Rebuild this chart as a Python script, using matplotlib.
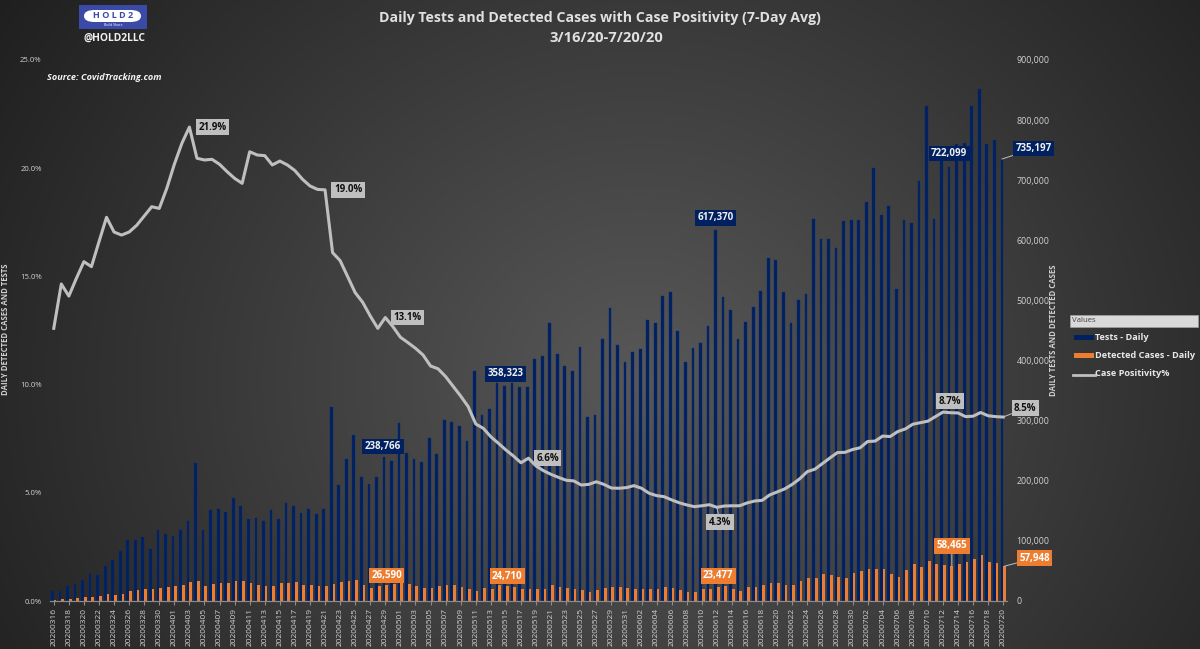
import numpy as np
import pandas as pd
import matplotlib.pyplot as plt
from matplotlib.patches import Rectangle, FancyBboxPatch
from matplotlib.lines import Line2D

plt.rcParams['font.family'] = ['Open Sans', 'DejaVu Sans']

# data, 2020-03-16 .. 2020-07-20
dates = [d.strftime('%Y%m%d') for d in pd.date_range('2020-03-16', '2020-07-20', freq='D')]

tests = [16600, 16000, 25000, 27700, 35500, 45000, 44000, 58000, 68000, 84000,
         101000, 102000, 106000, 87000, 118000, 111000, 108000, 118000, 133000, 229000,
         118600, 151000, 153600, 147500, 171000, 158000, 137000, 138000, 133600, 151000,
         137000, 163600, 158000, 146000, 153600, 145000, 152500, 323000, 192400, 235700,
         276000, 206000, 194600, 205700, 238766, 232300, 295500, 246800, 236200, 231200,
         271200, 244500, 301100, 297800, 291700, 266200, 383200, 308900, 319400, 362000,
         358323, 362000, 355500, 355400, 402000, 407600, 463000, 410300, 390900, 382600,
         423100, 306600, 308900, 435300, 488000, 426400, 397000, 413700, 419800, 468000,
         463000, 507400, 513500, 448600, 397000, 420300, 428600, 457500, 617370, 506300,
         484000, 435800, 463600, 488500, 515100, 570100, 567300, 514000, 463000, 500700,
         511000, 636000, 602000, 602000, 587000, 632000, 634500, 634000, 664000, 721000,
         642500, 657000, 519500, 634000, 629000, 699000, 823000, 636000, 740000, 722099,
         760000, 761400, 823000, 851000, 760800, 767700, 735197]

cases = [1000, 2500, 2800, 4400, 6100, 6600, 8900, 11000, 10000, 12200,
         17200, 18300, 19400, 19400, 21600, 23800, 25500, 26600, 31000, 32700,
         25000, 28800, 30500, 30500, 33800, 33800, 30500, 27200, 25000, 25000,
         29400, 30500, 31600, 27200, 27200, 25500, 25500, 28800, 31600, 33800,
         35500, 26600, 22200, 25000, 26590, 28300, 30500, 28300, 25000, 21600,
         21600, 24400, 27200, 27200, 23300, 20000, 17200, 22200, 20000, 26000,
         24710, 23800, 19400, 20000, 20500, 20000, 26000, 23300, 21000, 20000,
         18300, 15500, 18900, 21600, 23300, 23300, 21000, 20000, 20000, 20500,
         20500, 22700, 22200, 18900, 15500, 15500, 19400, 20500, 23477, 24400,
         20000, 17200, 22700, 22700, 26600, 29400, 30500, 26600, 26000, 32700,
         37700, 38000, 44200, 42900, 40400, 38000, 46000, 49800, 52900, 53500,
         52900, 44800, 40400, 51000, 61000, 57200, 65900, 62200, 60300, 58465,
         61600, 64100, 69700, 76500, 64100, 63500, 57948]

positivity = [12.60, 14.65, 14.09, 14.91, 15.68, 15.45, 16.60, 17.73, 17.05, 16.91,
              17.05, 17.36, 17.79, 18.22, 18.14, 19.07, 20.18, 21.15, 21.90, 20.46,
              20.38, 20.41, 20.18, 19.84, 19.53, 19.30, 20.76, 20.61, 20.58, 20.15,
              20.33, 20.15, 19.89, 19.49, 19.18, 19.02, 19.00, 16.10, 15.73, 14.99,
              14.25, 13.80, 13.17, 12.60, 13.10, 12.68, 12.19, 11.94, 11.68, 11.37,
              10.86, 10.73, 10.37, 9.92, 9.47, 8.98, 8.18, 7.98, 7.59, 7.29,
              6.98, 6.70, 6.39, 6.60, 6.24, 6.02, 5.85, 5.71, 5.58, 5.55,
              5.36, 5.39, 5.51, 5.39, 5.22, 5.21, 5.24, 5.33, 5.21, 4.98,
              4.87, 4.82, 4.67, 4.54, 4.44, 4.36, 4.40, 4.45, 4.33, 4.39,
              4.40, 4.40, 4.53, 4.62, 4.65, 4.90, 5.04, 5.18, 5.39, 5.65,
              5.98, 6.09, 6.35, 6.61, 6.86, 6.87, 7.00, 7.08, 7.37, 7.39,
              7.62, 7.60, 7.83, 7.95, 8.17, 8.24, 8.31, 8.52, 8.73, 8.70,
              8.69, 8.52, 8.54, 8.71, 8.56, 8.52, 8.50]

NAVY = '#002060'
ORANGE = '#ED7D31'
GREY = '#BFBFBF'
TXT = '#D0D0D0'

W, H = 1200, 649
fig = plt.figure(figsize=(12, 6.49), dpi=100)

# background radial gradient
bg = fig.add_axes([0, 0, 1, 1], zorder=-10)
yy, xx = np.mgrid[0:H, 0:W]
r = np.sqrt((xx - 640) ** 2 + ((yy - 380) / 0.9) ** 2)
g = np.clip(0.345 - 0.00029 * r, 0.11, 1)
bg.imshow(np.dstack([g, g, g]), extent=[0, W, H, 0], aspect='auto')
bg.set_xlim(0, W)
bg.set_ylim(H, 0)
bg.axis('off')

x = np.arange(len(dates))
L, R, T, B = 50, 1007, 60, 601
ax = fig.add_axes([L / W, (H - B) / H, (R - L) / W, (B - T) / H])
ax2 = ax.twinx()
ax.set_zorder(ax2.get_zorder() + 1)
ax.patch.set_visible(False)

bw = 0.36
ax2.bar(x - bw / 2, tests, width=bw, color=NAVY, edgecolor='#0a2a70', linewidth=0.3)
ax2.bar(x + bw / 2, cases, width=bw, color=ORANGE, linewidth=0)
ax.plot(x, positivity, color=GREY, lw=2.2, solid_joinstyle='round')

ax.set_xlim(-0.5, len(dates) - 0.5)
ax.set_ylim(0, 25)
ax2.set_ylim(0, 900000)
ax.set_yticks(np.arange(0, 26, 5))
ax.set_yticklabels([f'{v:.1f}%' for v in np.arange(0, 26, 5)])
ax2.set_yticks(np.arange(0, 900001, 100000))
ax2.set_yticklabels([f'{v:,}' for v in range(0, 900001, 100000)])
ax.set_xticks(x[::2])
ax.set_xticklabels(dates[::2], rotation=90)

for a in (ax, ax2):
    for s in ('top', 'left', 'right'):
        a.spines[s].set_visible(False)
    a.spines['bottom'].set_color('#8c8c8c')
    a.tick_params(axis='y', length=0, labelsize=5.6, labelcolor=TXT, pad=6)
ax.tick_params(axis='x', length=3, color='#8c8c8c', labelsize=6, labelcolor=TXT, pad=2)
ax2.tick_params(axis='y', labelsize=6.4, pad=7)


def lab(a, xi, yv, text, dx, dy, fc, tc, leader=False):
    kw = dict(xy=(xi, yv), xytext=(dx * 0.72, dy * 0.72), textcoords='offset points',
              ha='center', va='center', fontsize=7, fontweight='bold', color=tc,
              bbox=dict(boxstyle='square,pad=0.25', fc=fc, ec='none'), zorder=10)
    if leader:
        kw['arrowprops'] = dict(arrowstyle='-', color=GREY, lw=0.7, shrinkA=0, shrinkB=0)
    a.annotate(text, **kw)


def pct(i, dx, dy, leader=False):
    lab(ax, i, positivity[i], f'{positivity[i]:.1f}%', dx, dy, GREY, '#111111', leader)


def tst(i, dx, dy, leader=False):
    lab(ax2, i - bw / 2, tests[i], f'{tests[i]:,}', dx, dy, NAVY, '#F0F0F0', leader)


def cse(i, dx, dy, leader=False):
    lab(ax2, i + bw / 2, cases[i], f'{cases[i]:,}', dx, dy, ORANGE, '#FFFFFF', leader)


pct(18, 23, 0)
pct(36, 23, 0)
pct(44, 22, 0)
pct(63, 19, 0)
pct(88, 3, -15, True)
pct(118, 7, 11)
pct(126, 22, 9, True)

tst(88, 0, 12)
tst(44, -1, 11)
tst(60, 1, 12)
tst(119, 0, 13.5)
tst(126, 32, 10.5, True)

cse(44, 0, 9.5)
cse(60, 0, 10)
cse(88, 0, 11)
cse(119, 0, 20, True)
cse(126, 30, 8, True)

# titles and side texts
fig.text(600 / W, 1 - 18 / H, 'Daily Tests and Detected Cases with Case Positivity (7-Day Avg)',
         ha='center', va='center', fontsize=10.2, fontweight='bold', color='#E0E0E0')
fig.text(606 / W, 1 - 38 / H, '3/16/20-7/20/20', ha='center', va='center',
         fontsize=10.6, fontweight='bold', color='#E0E0E0')
fig.text(47 / W, 1 - 78 / H, 'Source: CovidTracking.com', ha='left', va='center',
         fontsize=6.6, fontweight='bold', fontstyle='italic', color='#F2F2F2')
fig.text(6 / W, 1 - 329.5 / H, 'DAILY DETECTED CASES AND TESTS', rotation=90,
         ha='center', va='center', fontsize=5.6, fontweight='bold', color=TXT)
fig.text(1053 / W, 1 - 330 / H, 'DAILY TESTS AND DETECTED CASES', rotation=90,
         ha='center', va='center', fontsize=5.6, fontweight='bold', color=TXT)

# logo
fig.patches.append(Rectangle((79 / W, 1 - 29 / H), 68 / W, 24 / H,
                             transform=fig.transFigure, fc='#3a4aa6', ec='none'))
fig.patches.append(FancyBboxPatch((84 / W, 1 - 22 / H), 57 / W, 12 / H,
                                  boxstyle='round,pad=0,rounding_size=0.009',
                                  transform=fig.transFigure, fc='white', ec='none'))
fig.text(113 / W, 1 - 16 / H, 'H O L D 2', ha='center', va='center', fontsize=6.5,
         fontweight='bold', color='#3a4aa6')
fig.text(113 / W, 1 - 25.5 / H, 'Build Share', ha='center', va='center', fontsize=2.5,
         color='white')
fig.text(114 / W, 1 - 38 / H, '@HOLD2LLC', ha='center', va='center', fontsize=7.4,
         fontweight='bold', color='#F0F0F0')

# legend
fig.patches.append(Rectangle((1070 / W, 1 - 327 / H), 128 / W, 12 / H,
                             transform=fig.transFigure, fc='#D9D9D9', ec='#A0A0A0', lw=0.5))
fig.text(1072 / W, 1 - 321 / H, 'Values', ha='left', va='center', fontsize=5.6,
         color='#404040')
rows = [(337, 'Tests - Daily', NAVY), (355.3, 'Detected Cases - Daily', ORANGE)]
for yy_, name, col in rows:
    fig.patches.append(Rectangle((1074 / W, 1 - (yy_ + 2.5) / H), 20 / W, 5 / H,
                                 transform=fig.transFigure, fc=col, ec='none'))
    fig.text(1095 / W, 1 - yy_ / H, name, ha='left', va='center', fontsize=6.6,
             fontweight='bold', color='#E8E8E8')
fig.lines.append(Line2D([1073 / W, 1095 / W], [1 - 375 / H, 1 - 375 / H],
                        transform=fig.transFigure, color=GREY, lw=2))
fig.text(1095 / W, 1 - 374 / H, 'Case Positivity%', ha='left', va='center', fontsize=6.6,
         fontweight='bold', color='#E8E8E8')

fig.savefig('out.png', dpi=100)
